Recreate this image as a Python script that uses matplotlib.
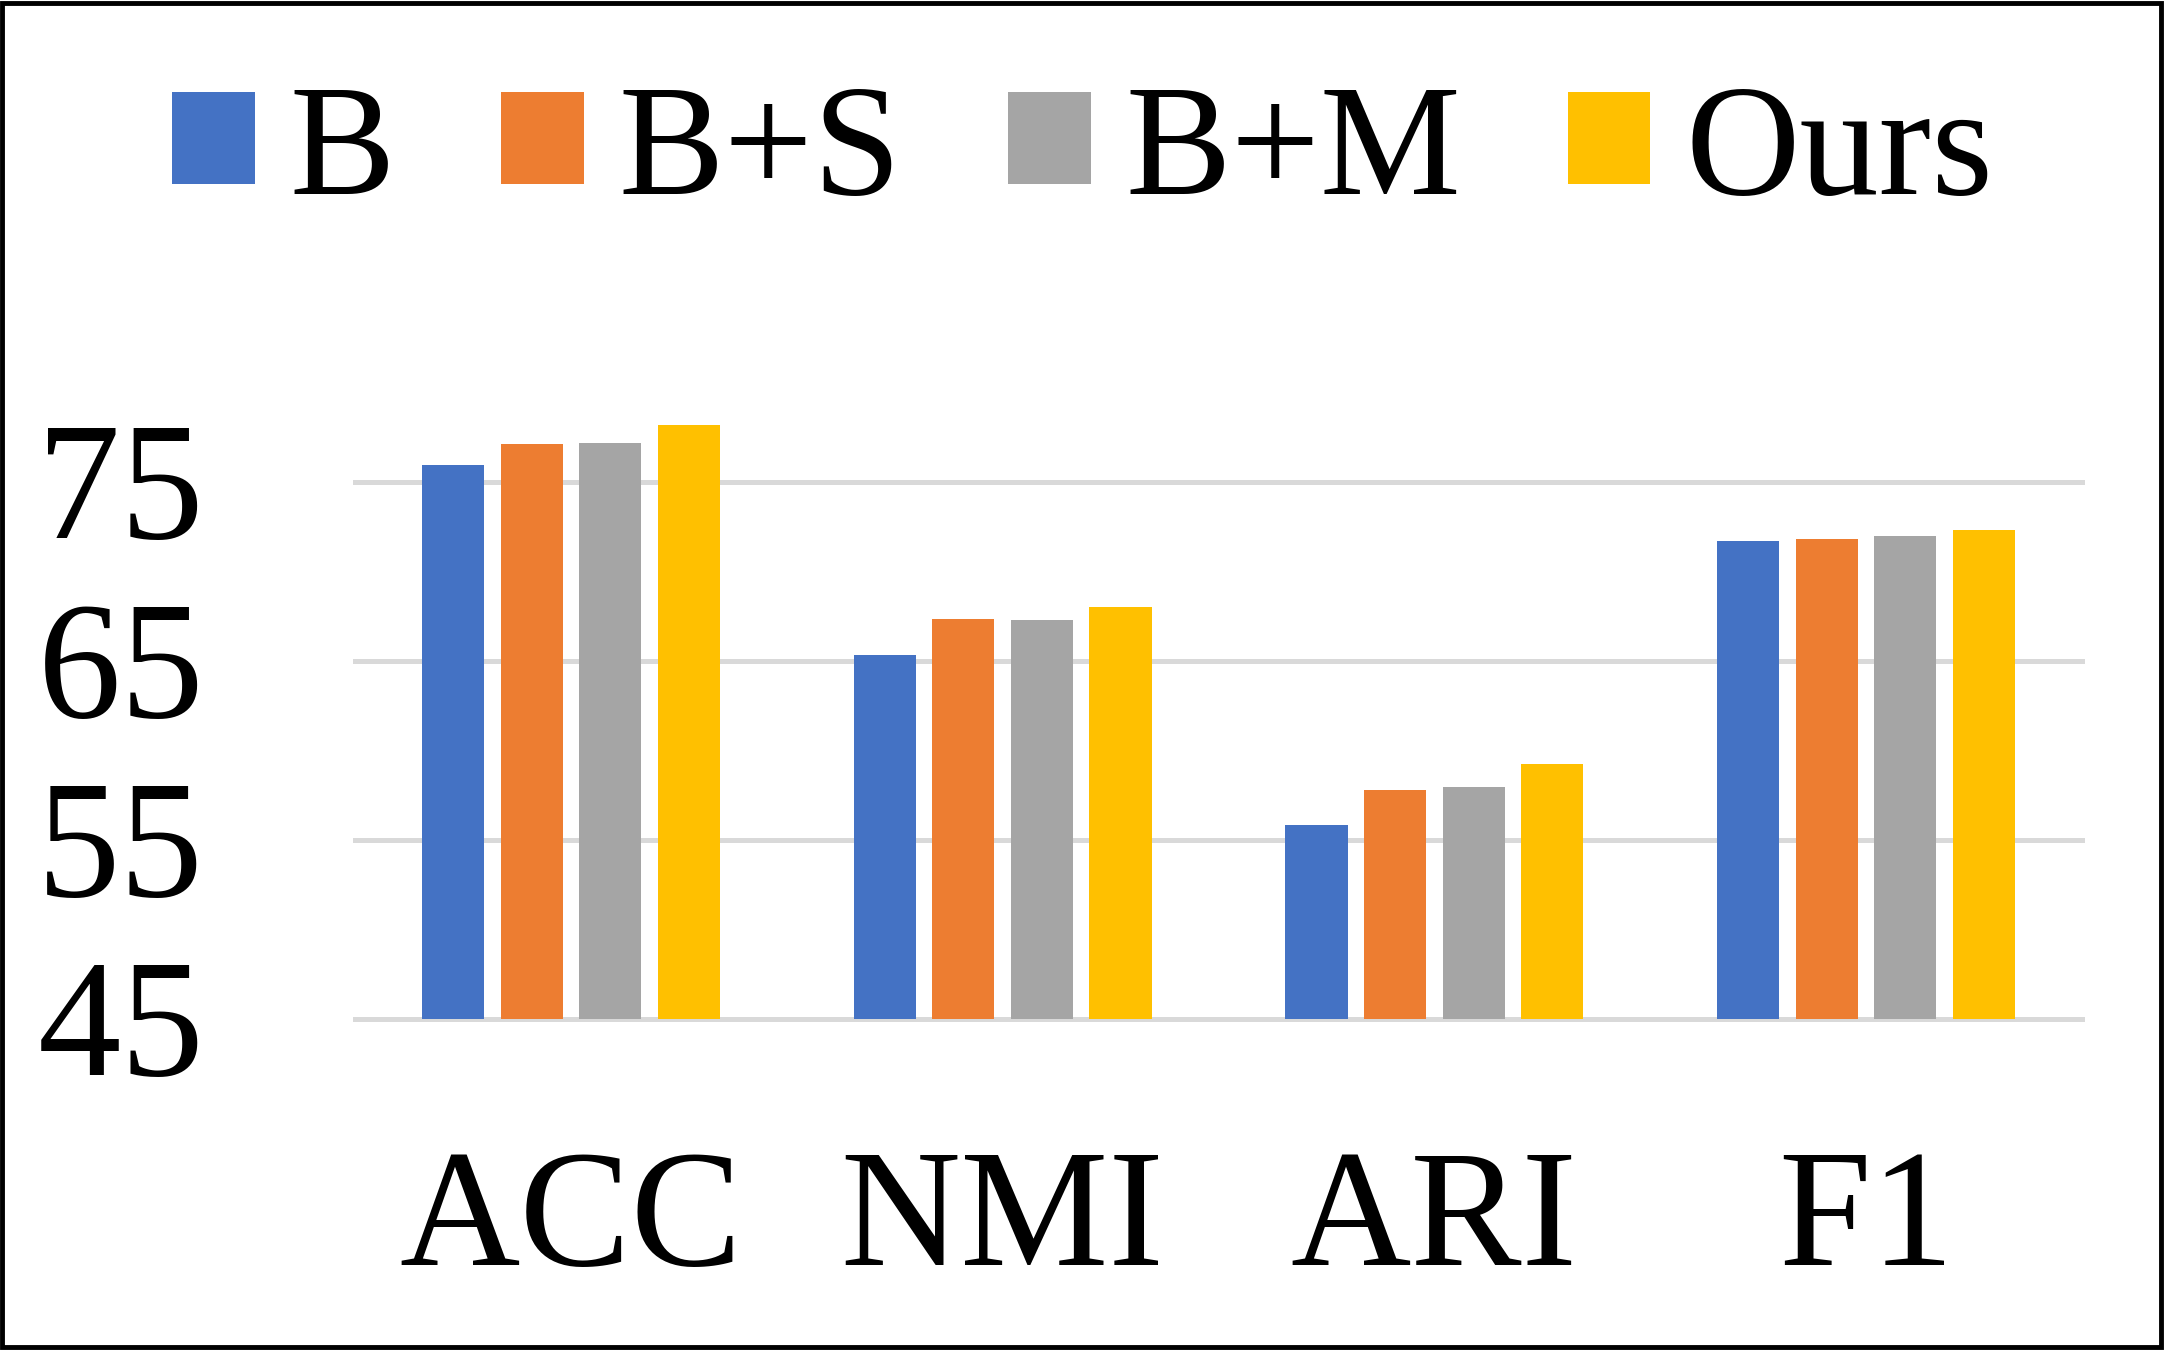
import matplotlib
matplotlib.use("Agg")
import matplotlib.pyplot as plt
import numpy as np
from matplotlib.patches import Patch, Rectangle
from matplotlib.font_manager import FontProperties
from matplotlib.transforms import ScaledTranslation

categories = ["ACC", "NMI", "ARI", "F1"]
series_names = ["B", "B+S", "B+M", "Ours"]
vals_B = [75.95, 65.35, 55.85, 71.73]
vals_BS = [77.13, 67.37, 57.80, 71.86]
vals_BM = [77.22, 67.31, 57.98, 72.01]
vals_Ours = [78.19, 68.06, 59.25, 72.35]
yticks = [45, 55, 65, 75]
colors = ["#4472C4", "#ED7D31", "#A5A5A5", "#FFC000"]

FAM = 'Liberation Serif'
plt.rcParams['font.family'] = FAM

W, H, DPI = 2165, 1350, 100
fig = plt.figure(figsize=(W / DPI, H / DPI), dpi=DPI)
ax = fig.add_axes([355 / W, 1 - 1019 / H, 1727 / W, 626 / H])

x = np.arange(len(categories))
bw = 0.1438
step = 0.182
all_vals = [vals_B, vals_BS, vals_BM, vals_Ours]
base = 45
for i, (name, v, c) in enumerate(zip(series_names, all_vals, colors)):
    off = (i - 1.5) * step
    ax.bar(x + off, np.array(v) - base, bottom=base, width=bw, color=c,
           label=name, zorder=3)

ax.set_xlim(-0.5, 3.5)
ax.set_ylim(45, 80)
ax.set_yticks(yticks)
ax.set_yticklabels([])
ax.set_xticks(x)
ax.set_xticklabels(categories, fontfamily=FAM, fontsize=120)
ax.grid(axis='y', color='#D9D9D9', linewidth=3.6, zorder=0)
for gl in ax.get_ygridlines():
    gl.set_clip_on(False)
ax.set_axisbelow(True)
for s in ax.spines.values():
    s.set_visible(False)
ax.tick_params(axis='y', length=0)
ax.tick_params(axis='x', length=0, pad=93)

ytrans = ax.get_yaxis_transform() + ScaledTranslation(0, -0.56, fig.dpi_scale_trans)
for t in yticks:
    ax.text(-0.0874, t, str(t), transform=ytrans, ha='right', va='baseline',
            fontfamily=FAM, fontsize=120, clip_on=False)

handles = [Patch(facecolor=c, edgecolor='none') for c in colors]
fig.legend(handles, series_names, loc='center', bbox_to_anchor=(0.5, 1 - 156 / H),
           ncol=4, frameon=False, prop=FontProperties(family=FAM, size=114),
           handlelength=0.523, handleheight=0.515, handletextpad=0.22,
           columnspacing=0.67, borderaxespad=0)

fig.patches.append(Rectangle((0.001, 0.002), 0.997, 0.996, transform=fig.transFigure,
                             fill=False, edgecolor='black', linewidth=3.5))

fig.savefig("out.png", dpi=DPI)
